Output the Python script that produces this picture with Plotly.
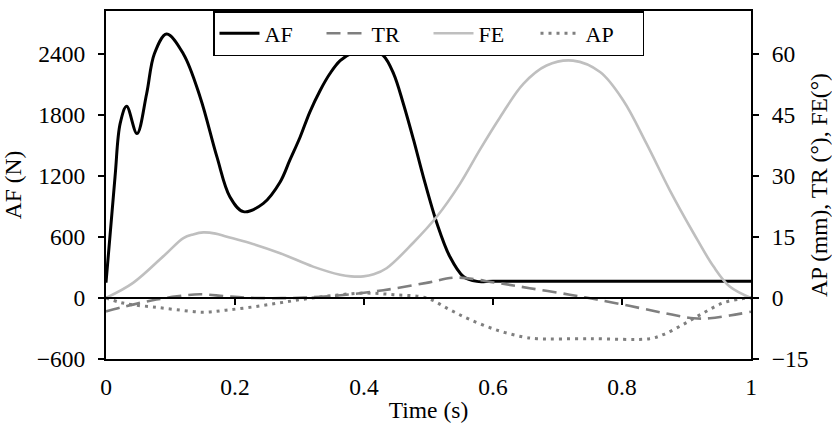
import plotly.graph_objects as go

# ---- data -------------------------------------------------------------
# Axial force AF (N), left axis
t_af = [0.0, 0.014, 0.022, 0.032, 0.048, 0.063, 0.075, 0.094, 0.12, 0.146,
        0.172, 0.192, 0.213, 0.244, 0.27, 0.285, 0.301, 0.316, 0.332, 0.347,
        0.363, 0.384, 0.409, 0.43, 0.446, 0.461, 0.477, 0.492, 0.513, 0.533,
        0.554, 0.575, 0.6, 0.7, 0.8, 0.9, 1.0]
af = [150, 1190, 1715, 1883, 1615, 2007, 2400, 2594, 2398, 1973,
      1386, 995, 848, 930, 1140, 1354, 1582, 1827, 2039, 2203,
      2333, 2414, 2448, 2382, 2203, 1909, 1550, 1190, 734, 407,
      211, 163, 165, 165, 165, 165, 165]

# Tibial rotation TR (deg), right axis
t_tr = [0.0, 0.022, 0.053, 0.078, 0.11, 0.146, 0.186, 0.23, 0.29, 0.352,
        0.43, 0.497, 0.543, 0.606, 0.657, 0.719, 0.761, 0.813, 0.865, 0.911,
        0.936, 0.967, 1.0]
tr = [-3.3, -2.4, -1.2, -0.4, 0.4, 0.9, 0.4, 0.0, 0.0, 0.5,
      1.9, 3.7, 5.0, 3.7, 2.4, 0.8, -0.4, -2.0, -3.7, -5.0,
      -5.0, -4.3, -3.4]

# Flexion-extension FE (deg), right axis
t_fe = [0.0, 0.042, 0.094, 0.12, 0.135, 0.151, 0.17, 0.186, 0.223, 0.27,
        0.321, 0.363, 0.38, 0.399, 0.415, 0.435, 0.476, 0.513, 0.549, 0.58,
        0.611, 0.647, 0.683, 0.724, 0.766, 0.802, 0.838, 0.874, 0.911, 0.942,
        0.967, 1.0]
fe = [0.0, 3.7, 11.0, 14.7, 15.6, 16.1, 15.8, 15.1, 13.5, 11.0,
      7.7, 5.7, 5.3, 5.3, 5.8, 7.3, 13.5, 20.0, 28.1, 36.5,
      44.4, 52.6, 57.1, 58.3, 55.5, 48.5, 37.9, 26.5, 15.9, 7.7,
      2.8, 0.0]

# Anterior-posterior translation AP (mm), right axis
t_ap = [0.0, 0.022, 0.042, 0.073, 0.11, 0.151, 0.186, 0.228, 0.27, 0.311,
        0.352, 0.399, 0.446, 0.497, 0.533, 0.564, 0.606, 0.647, 0.668, 0.75,
        0.843, 0.864, 0.895, 0.926, 0.957, 0.985, 1.0]
ap = [0.0, -1.1, -1.7, -2.2, -2.9, -3.5, -3.0, -2.2, -1.2, -0.2,
      0.6, 1.2, 0.8, 0.0, -2.9, -5.3, -7.9, -9.6, -10.0, -10.0,
      -10.0, -9.0, -6.5, -3.7, -1.2, -0.2, 0.0]

x_ticks = [0, 0.2, 0.4, 0.6, 0.8, 1]
x_tick_text = ["0", "0.2", "0.4", "0.6", "0.8", "1"]
left_ticks = [-600, 0, 600, 1200, 1800, 2400]
right_ticks = [-15, 0, 15, 30, 45, 60]

# ---- styling ----------------------------------------------------------
FONT = "Liberation Serif"
FS = 23.5
W, H = 832, 431
MARGIN = dict(l=106, r=81, t=11, b=72)
LEFT_RANGE = [-600, 2820]
RIGHT_RANGE = [LEFT_RANGE[0] / 40, LEFT_RANGE[1] / 40]   # 40 N per unit
SMOOTH = 1.0
TICK_PX = 6
ZERO_TICK_PX = 7
plot_h = H - MARGIN["t"] - MARGIN["b"]
zero_tick_len = ZERO_TICK_PX * (LEFT_RANGE[1] - LEFT_RANGE[0]) / plot_h

fig = go.Figure()

fig.add_trace(go.Scatter(x=t_af, y=af, name="AF", mode="lines",
                         line=dict(color="black", width=3, shape="spline", smoothing=SMOOTH),
                         yaxis="y"))
fig.add_trace(go.Scatter(x=t_tr, y=tr, name="TR", mode="lines",
                         line=dict(color="#7f7f7f", width=2.6, dash="14px,7px",
                                   shape="spline", smoothing=SMOOTH),
                         yaxis="y2"))
fig.add_trace(go.Scatter(x=t_fe, y=fe, name="FE", mode="lines",
                         line=dict(color="#bfbfbf", width=2.6, shape="spline", smoothing=SMOOTH),
                         yaxis="y2"))
fig.add_trace(go.Scatter(x=t_ap, y=ap, name="AP", mode="lines",
                         line=dict(color="#7f7f7f", width=3, dash="3px,5px",
                                   shape="spline", smoothing=SMOOTH),
                         yaxis="y2"))

# horizontal axis crossing at zero, with its tick marks pointing down
shapes = [dict(type="line", xref="x domain", yref="y", x0=0, x1=1, y0=0, y1=0,
               line=dict(color="black", width=2), layer="above")]
for xv in x_ticks[1:-1]:
    shapes.append(dict(type="line", xref="x", yref="y",
                       x0=xv, x1=xv, y0=0, y1=-zero_tick_len,
                       line=dict(color="black", width=2), layer="above"))

axis_common = dict(showgrid=False, zeroline=False, linecolor="black", linewidth=2,
                   automargin=False, tickfont=dict(family=FONT, size=FS, color="black"))

fig.update_layout(
    width=W, height=H,
    margin=MARGIN,
    paper_bgcolor="white", plot_bgcolor="white",
    font=dict(family=FONT, size=FS, color="black"),
    showlegend=True,
    shapes=shapes,
    legend=dict(orientation="h", x=0.5, xanchor="center", y=1.0, yanchor="top",
                bgcolor="white", bordercolor="black", borderwidth=1.5,
                font=dict(family=FONT, size=22, color="black"),
                entrywidth=52, itemwidth=40, tracegroupgap=0),
    xaxis=dict(range=[0, 1], showline=True, mirror=True, ticks="",
               tickvals=x_ticks, ticktext=x_tick_text, ticklabelstandoff=6,
               title=dict(text="Time (s)", font=dict(family=FONT, size=FS), standoff=2),
               **axis_common),
    yaxis=dict(range=LEFT_RANGE, showline=True, ticks="outside", ticklen=TICK_PX, tickwidth=2,
               tickcolor="black", tickvals=left_ticks, ticklabelstandoff=8,
               title=dict(text="AF (N)", font=dict(family=FONT, size=FS)),
               **axis_common),
    yaxis2=dict(range=RIGHT_RANGE, overlaying="y", side="right", anchor="x",
                showline=True, ticks="outside", ticklen=TICK_PX, tickwidth=2, tickcolor="black",
                tickvals=right_ticks, ticklabelstandoff=8,
                title=dict(text="AP (mm), TR (°), FE(°)", font=dict(family=FONT, size=FS)),
                **axis_common),
)

fig.write_html("out.html")
